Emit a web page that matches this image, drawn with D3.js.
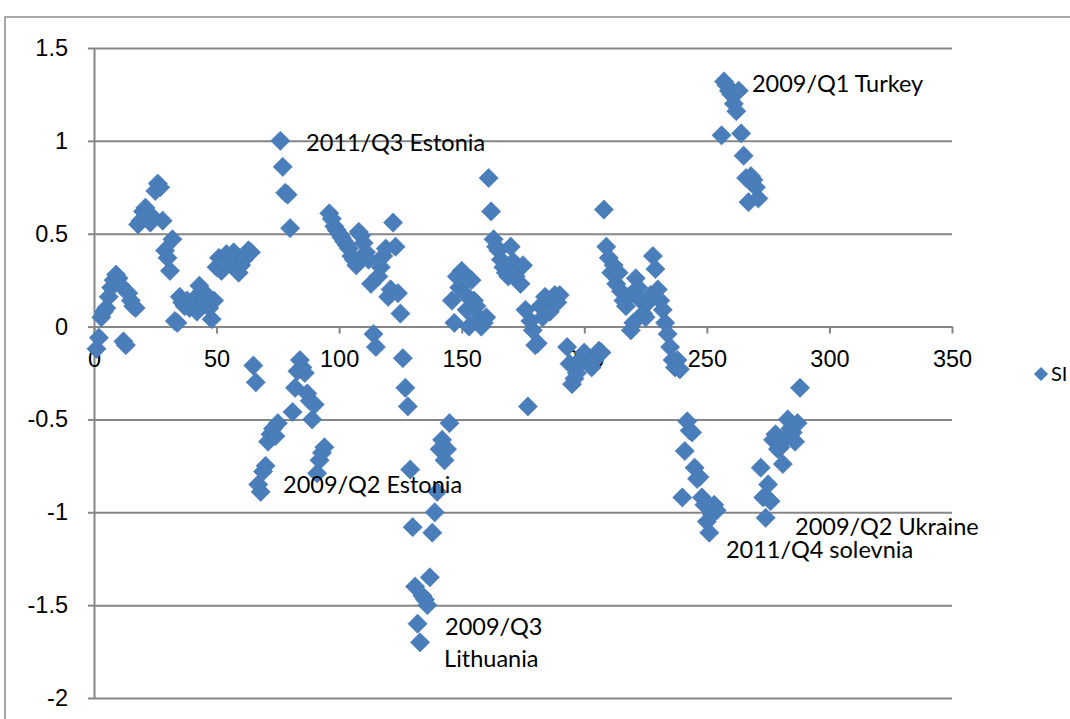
<!DOCTYPE html>
<html>
<head>
<meta charset="utf-8">
<script src="https://cdn.jsdelivr.net/npm/d3@7"></script>
<style>
  body { margin: 0; background: #fff; }
  svg { display: block; font-family: Lato, "Open Sans", sans-serif; }
</style>
</head>
<body>
<svg width="1070" height="719"></svg>
<script>
const siIndex = [
  1,2,3,4,5,6,7,8,9,10,11,12,13,14,15,16,17,
  18,19,20,21,22,23,24,25,26,27,28,29,30,31,32,
  33,34,35,36,37,38,39,40,41,42,43,44,45,46,47,48,49,
  50,51,52,53,54,55,56,57,58,59,60,61,62,63,64,
  65,66,67,68,69,70,71,72,73,74,75,
  76,77,78,79,80,
  81,82,83,84,85,86,87,88,89,90,91,92,93,94,
  96,97,98,99,100,101,102,103,104,105,106,107,108,109,110,111,112,
  113,114,115,116,117,118,119,120,121,122,123,124,125,126,127,128,
  129,130,131,132,133,134,135,136,137,138,139,140,141,142,143,144,145,
  146,147,148,149,150,151,152,153,154,155,156,157,158,159,160,
  161,162,163,164,165,166,167,168,169,170,171,172,173,174,175,
  176,177,178,179,180,181,182,183,184,185,186,187,188,189,190,
  193,194,195,196,197,198,199,200,201,202,203,204,205,206,207,
  208,209,210,211,212,213,214,215,216,217,218,219,220,221,222,223,224,225,
  226,227,228,229,230,231,232,233,234,235,236,237,238,239,
  240,241,242,243,244,245,246,247,248,249,250,251,252,253,254,
  256,257,258,259,260,261,262,263,264,265,266,267,268,269,270,271,
  272,273,274,275,276,277,278,279,280,281,282,283,284,285,286,287,288
];
const siValue = [
  -0.12,-0.06,0.05,0.08,0.10,0.16,0.21,0.25,0.28,0.26,0.22,-0.08,-0.10,0.18,0.14,0.11,0.10,
  0.55,0.57,0.62,0.64,0.60,0.56,0.59,0.73,0.77,0.75,0.57,0.41,0.37,0.30,0.47,
  0.03,0.02,0.16,0.13,0.11,0.14,0.10,0.12,0.15,0.08,0.22,0.19,0.14,0.17,0.10,0.04,0.14,
  0.32,0.37,0.30,0.35,0.39,0.34,0.38,0.40,0.32,0.29,0.33,0.36,0.38,0.41,0.40,
  -0.21,-0.30,-0.85,-0.89,-0.78,-0.75,-0.62,-0.58,-0.55,-0.59,-0.52,
  1.00,0.86,0.72,0.71,0.53,
  -0.46,-0.33,-0.24,-0.18,-0.22,-0.25,-0.36,-0.40,-0.50,-0.42,-0.79,-0.72,-0.68,-0.65,
  0.61,0.58,0.54,0.52,0.50,0.48,0.46,0.44,0.42,0.38,0.36,0.33,0.51,0.49,0.45,0.40,0.36,
  0.23,-0.04,-0.11,0.27,0.32,0.38,0.42,0.16,0.20,0.56,0.43,0.18,0.07,-0.17,-0.33,-0.43,
  -0.77,-1.08,-1.40,-1.60,-1.70,-1.45,-1.47,-1.50,-1.35,-1.11,-1.00,-0.89,-0.66,-0.61,-0.72,-0.66,-0.52,
  0.14,0.02,0.27,0.21,0.30,0.18,0.09,0.00,0.25,0.14,0.11,0.05,0.00,0.02,0.05,
  0.80,0.62,0.47,0.43,0.41,0.36,0.32,0.29,0.27,0.43,0.35,0.27,0.31,0.23,0.33,
  0.09,-0.43,0.03,-0.02,-0.10,-0.09,0.11,0.05,0.16,0.12,0.08,0.14,0.17,0.13,0.17,
  -0.11,-0.20,-0.31,-0.28,-0.25,-0.20,-0.17,-0.14,-0.16,-0.20,-0.22,-0.18,-0.16,-0.13,-0.14,
  0.63,0.43,0.37,0.29,0.33,0.23,0.29,0.19,0.14,0.11,0.16,-0.02,0.02,0.26,0.21,0.14,0.07,0.05,
  0.13,0.17,0.38,0.31,0.20,0.14,0.09,0.02,-0.04,-0.11,-0.18,-0.22,-0.18,-0.23,
  -0.92,-0.67,-0.51,-0.56,-0.57,-0.76,-0.82,-0.81,-0.92,-0.96,-1.05,-1.11,-1.01,-0.96,-0.99,
  1.03,1.32,1.30,1.27,1.25,1.20,1.16,1.27,1.04,0.92,0.80,0.67,0.81,0.79,0.75,0.69,
  -0.76,-0.92,-1.03,-0.85,-0.94,-0.61,-0.58,-0.66,-0.65,-0.74,-0.60,-0.50,-0.55,-0.57,-0.62,-0.52,-0.33
];

const xTicks = [0, 50, 100, 150, 200, 250, 300, 350];
const yTicks = [-2, -1.5, -1, -0.5, 0, 0.5, 1, 1.5];
const seriesName = "SI";

// callouts: text lines with their anchor in data units
const calloutText = ["2009/Q1 Turkey", "2011/Q3 Estonia", "2009/Q2 Estonia", "2009/Q3", "Lithuania", "2009/Q2 Ukraine", "2011/Q4 solevnia"];
const calloutX = [268.4, 86.5, 77.1, 143.2, 142.8, 286.0, 257.8];
const calloutY = [1.263, 0.946, -0.896, -1.66, -1.833, -1.122, -1.245];

const plot = { left: 94, right: 952, top: 48, bottom: 698 };
const gridColor = "#868686";
const markColor = "#4a7ebb";
const fontSize = 23.5;

const svg = d3.select("svg");

// outer chart frame (partly cropped)
svg.append("path")
  .attr("d", "M5,719 V17 H1070")
  .attr("fill", "none")
  .attr("stroke", "#8c8c8c")
  .attr("stroke-width", 1.5);

let x = d3.scaleLinear().domain([0, 350]).range([plot.left, plot.right]);
let y = d3.scaleLinear().domain([-2, 1.5]).range([plot.bottom, plot.top]);

// horizontal gridlines
svg.append("g")
  .attr("transform", `translate(${plot.left},0)`)
  .call(d3.axisLeft(y).tickValues(yTicks).tickSize(-(plot.right - plot.left)).tickFormat(""))
  .call(g => g.select(".domain").remove())
  .call(g => g.selectAll("line").attr("stroke", gridColor).attr("stroke-width", 2));

// y axis
let yAxis = svg.append("g")
  .attr("transform", `translate(${plot.left},0)`)
  .call(d3.axisLeft(y).tickValues(yTicks).tickSize(6).tickSizeOuter(0).tickPadding(20)
    .tickFormat(d => d3.format("")(d).replace("−", "-")));
yAxis.select(".domain").attr("stroke", gridColor).attr("stroke-width", 2);
yAxis.selectAll("line").attr("stroke", gridColor).attr("stroke-width", 2);
yAxis.selectAll("text").attr("font-size", fontSize).attr("fill", "#000");

// x axis crossing at y = 0
let xAxis = svg.append("g")
  .attr("transform", `translate(0,${y(0)})`)
  .call(d3.axisBottom(x).tickValues(xTicks).tickSize(7).tickSizeOuter(0).tickPadding(17));
xAxis.select(".domain").attr("stroke", gridColor).attr("stroke-width", 2);
xAxis.selectAll("line").attr("stroke", gridColor).attr("stroke-width", 2);
xAxis.selectAll("text").attr("font-size", fontSize).attr("fill", "#000");

// diamond markers
const diamond = d3.symbol().type(d3.symbolSquare).size(185);
const points = siIndex.map((d, i) => ({ x: d, y: siValue[i] }));

svg.append("g")
  .selectAll("path")
  .data(points)
  .enter()
  .append("path")
  .attr("d", diamond)
  .attr("transform", d => `translate(${x(d.x)},${y(d.y)}) rotate(45)`)
  .attr("fill", markColor)
  .attr("stroke", "#4778b4")
  .attr("stroke-width", 0.6);

// callouts
svg.append("g")
  .selectAll("text")
  .data(calloutText)
  .enter()
  .append("text")
  .attr("x", (d, i) => x(calloutX[i]))
  .attr("y", (d, i) => y(calloutY[i]))
  .attr("font-size", fontSize)
  .attr("fill", "#000")
  .text(d => d);

// legend
let legend = svg.append("g").attr("transform", "translate(1041,374)");
legend.append("path")
  .attr("d", d3.symbol().type(d3.symbolSquare).size(100))
  .attr("transform", "rotate(45)")
  .attr("fill", markColor);
legend.append("text")
  .attr("x", 10)
  .attr("y", 0)
  .attr("dy", "0.35em")
  .attr("font-size", 20)
  .attr("fill", "#000")
  .text(seriesName);
</script>
</body>
</html>
